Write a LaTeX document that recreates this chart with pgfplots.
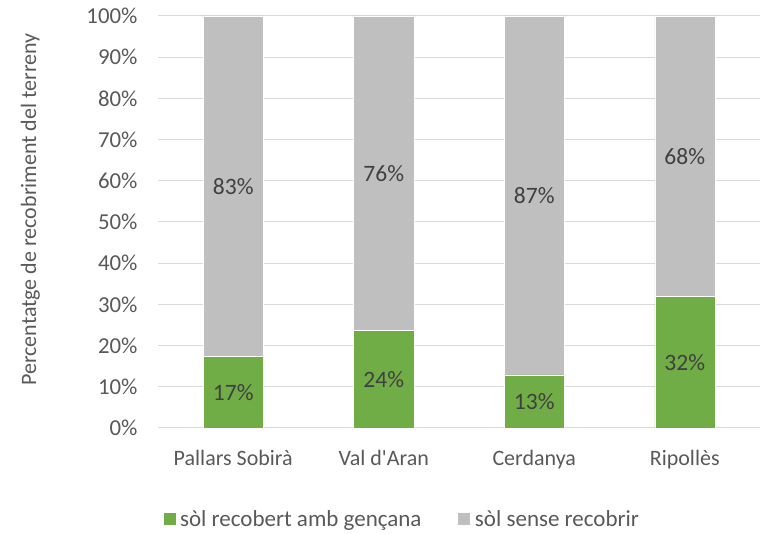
\documentclass[border=0pt]{standalone}
\usepackage{fontspec}
\setmainfont{Carlito}[Ligatures=TeXOff]
\usepackage{pgfplots}
\usepackage{pgfplotstable}
\pgfplotsset{compat=1.18}
\definecolor{vgreen}{HTML}{70AD47}
\definecolor{vgray}{HTML}{BFBFBF}
\definecolor{txt}{HTML}{595959}
\definecolor{lbl}{HTML}{404040}
\definecolor{gridc}{HTML}{D9D9D9}
\pgfplotstableread{
x v
0 17.3
1 23.7
2 12.9
3 31.9
}\green
\pgfplotstableread{
x v
0 82.7
1 76.3
2 87.1
3 68.1
}\gray
\begin{document}
\begin{tikzpicture}[x=1pt,y=1pt]
\useasboundingbox (0,0) rectangle (761,534);
\begin{axis}[
 at={(158pt,106pt)}, anchor=south west,
 scale only axis, width=602pt, height=412pt,
 ybar stacked, bar width=60pt,
 xmin=-0.5, xmax=3.5, ymin=0, ymax=100,
 xtick={0,1,2,3}, xticklabels={Pallars Sobirà, Val d'Aran, Cerdanya, Ripollès},
 ytick={0,10,...,100},
 yticklabel={\pgfmathprintnumber{\tick}\%},
 /pgf/number format/assume math mode=true,
 ymajorgrids, grid style={gridc, line width=1pt},
 axis line style={draw=none},
 major tick length=0pt,
 xticklabel style={yshift=-19pt, font=\fontsize{22}{26}\selectfont, text=txt},
 yticklabel style={xshift=-17pt, font=\fontsize{22.8}{26}\selectfont, text=txt},
 ylabel={Percentatge de recobriment del terreny},
 ylabel style={at={(axis description cs:-0.212,0.53)}, anchor=center, font=\fontsize{22}{26}\selectfont, text=txt},
 legend style={at={(0.405,-0.221)}, anchor=center, legend columns=2, draw=none, fill=none,
   font=\fontsize{23}{27}\selectfont, text=txt,
   /tikz/every even column/.append style={column sep=34pt}},
 legend image code/.code={\fill[#1] (0pt,-6.5pt) rectangle (13pt,6.5pt); \path (15pt,0pt);},
 nodes near coords={\pgfmathprintnumber[fixed,precision=0]{\pgfplotspointmeta}\%},
 point meta=explicit,
 nodes near coords style={font=\fontsize{23.5}{27}\selectfont, text=lbl, anchor=center},
]
\addplot[fill=vgreen, draw=white, line width=0.5pt]
  table[x=x, y=v, meta=v] {\green};
\addlegendentry{sòl recobert amb gençana}
\addplot[fill=vgray, draw=white, line width=0.5pt]
  table[x=x, y=v, meta=v] {\gray};
\addlegendentry{sòl sense recobrir}
\end{axis}
\end{tikzpicture}
\end{document}
